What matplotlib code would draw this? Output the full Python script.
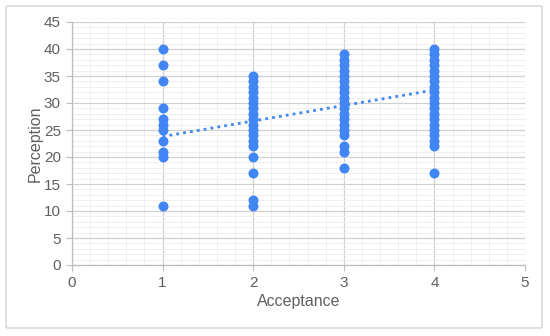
import numpy as np
import matplotlib.pyplot as plt
from matplotlib.patches import FancyBboxPatch
from matplotlib.ticker import MultipleLocator

# puntos: aceptacion (x) y percepcion (y)
percep_1 = [11, 20, 21, 23, 25, 26, 27, 29, 34, 37, 40]
percep_2 = [11, 12, 17, 20] + list(range(22, 36))
percep_3 = [18, 21, 22] + list(range(24, 40))
percep_4 = [17] + list(range(22, 41))

acceptance = [1] * len(percep_1) + [2] * len(percep_2) + [3] * len(percep_3) + [4] * len(percep_4)
perception = percep_1 + percep_2 + percep_3 + percep_4

# linea de tendencia
trend_x = [1, 4]
trend_slope = 2.87
trend_intercept = 20.93

blue = '#4285f4'
plt.rcParams['font.family'] = ['Liberation Sans', 'DejaVu Sans']

fig = plt.figure(figsize=(5.5, 3.36), dpi=100)
fig.patch.set_facecolor('white')

# marco gris de todo el grafico
borde = FancyBboxPatch((6 / 550, 8 / 336), 536 / 550, 322 / 336,
                       boxstyle='round,pad=0,rounding_size=0.004',
                       transform=fig.transFigure, facecolor='none',
                       edgecolor='#d9d9d9', linewidth=1.2, zorder=-1)
fig.patches.append(borde)

ax = fig.add_axes([72 / 550, 1 - 265 / 336, 453 / 550, 243 / 336])
ax.set_facecolor('none')

ax.scatter(acceptance, perception, s=52, color=blue, zorder=3, linewidths=0)

tx = np.array(trend_x, dtype=float)
ax.plot(tx, trend_slope * tx + trend_intercept, color=blue, linestyle=(0, (1, 1.5)),
        linewidth=2, zorder=4)

ax.set_xlim(0, 5)
ax.set_ylim(0, 45)
ax.xaxis.set_major_locator(MultipleLocator(1))
ax.xaxis.set_minor_locator(MultipleLocator(0.2))
ax.yaxis.set_major_locator(MultipleLocator(5))
ax.yaxis.set_minor_locator(MultipleLocator(1))

ax.grid(which='major', color='#d0d0d0', linewidth=0.9, zorder=0)
ax.grid(which='minor', color='#efefef', linewidth=0.7, zorder=0)
ax.set_axisbelow(True)

for s in ['top', 'right']:
    ax.spines[s].set_visible(False)
for s in ['left', 'bottom']:
    ax.spines[s].set_color('#bdbdbd')
    ax.spines[s].set_linewidth(0.9)

ax.tick_params(which='major', length=4, width=0.8, color='#bdbdbd', labelsize=11,
               labelcolor='#5f5f5f', pad=4)
ax.tick_params(which='minor', length=0)

ax.set_xlabel('Acceptance', fontsize=11.5, color='#5f5f5f', labelpad=3)
ax.set_ylabel('Perception', fontsize=11.5, color='#5f5f5f', labelpad=1)

plt.savefig('out.png', dpi=100, facecolor='white')
